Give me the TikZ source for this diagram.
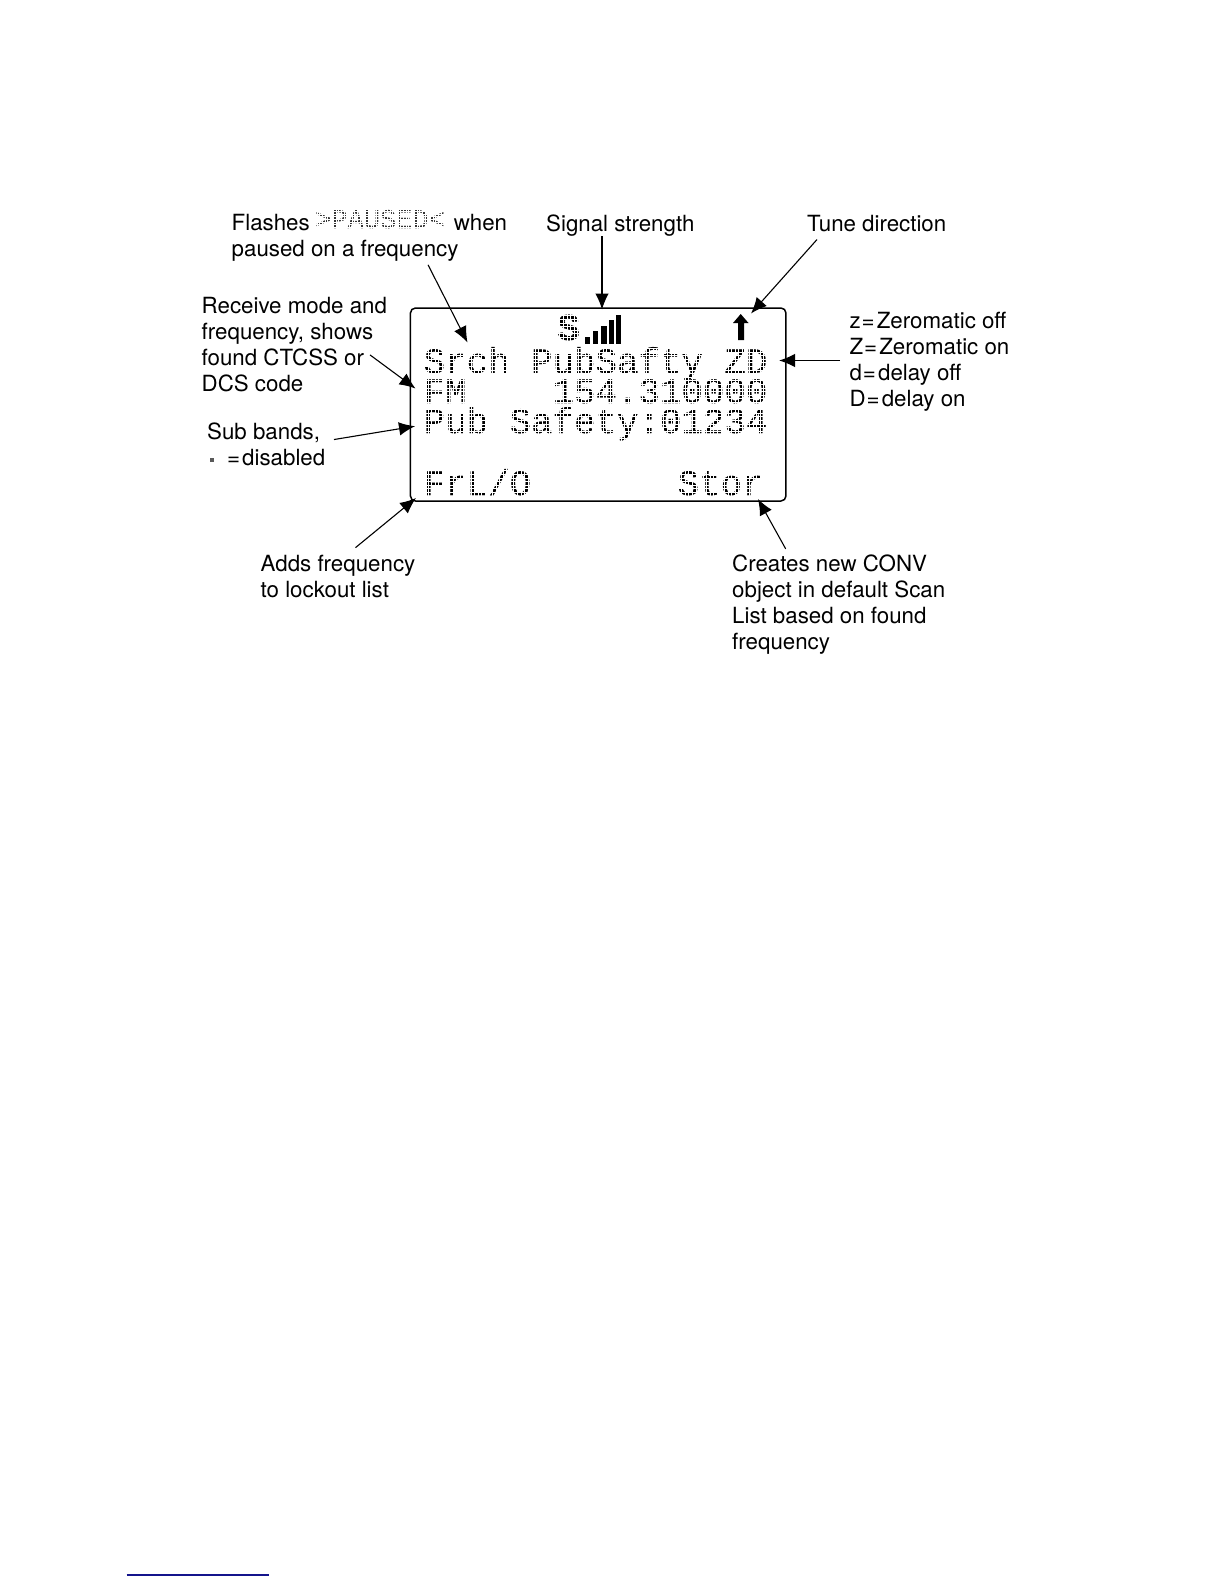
\documentclass[tikz,border=0pt]{standalone}
\usepackage{fontspec}
\setmainfont{TeX Gyre Heros}
\newfontfamily\lcdfont[FakeBold=0.5]{Liberation Mono}
\newcommand{\eqs}{\kern0.8pt=\kern2.2pt}
\usetikzlibrary{arrows.meta}
\tikzset{
    label/.style={inner sep=0pt, align=left, anchor=base west, font=\fontsize{22.3}{25.85}\selectfont},
    lcdtext/.style={inner sep=0pt, anchor=base west, font=\fontsize{35.8}{36}\lcdfont},
    callout/.style={-{Latex[length=16pt,width=13.5pt]}, line width=1.1pt},
    dotgrid/.style={white, line width=0.8pt}
}
\begin{document}
\begin{tikzpicture}[x=1pt, y=-1pt]
    \useasboundingbox (0,0) rectangle (1224,1584);

    % Display outline
    \node[draw, line width=1.5pt, rounded corners=5pt, minimum width=375.5pt, minimum height=193pt, inner sep=0pt] (display) at (598.2,404.5) {};

    % Display text
    \node[lcdtext] (line1) at (423.5,373) {Srch PubSafty ZD};
    \node[lcdtext] (line2) at (423.5,403) {FM~~~~154.310000};
    \node[lcdtext] (line3) at (423.5,433) {Pub Safety:01234};
    \node[lcdtext] (softl) at (423.5,495) {FrL/O};
    \node[lcdtext] (softr) at (677.5,495) {Stor};
    % white grid cuts the strokes into dots
    \draw[dotgrid, shift={(424.6pt,-348.4pt)}, xstep=3.57pt, ystep=3.6pt] (0,0) grid (349,150);

    % Status icons
    \node[inner sep=0pt, anchor=base west, font=\fontsize{38}{38}\lcdfont\bfseries] (sicon) at (557,340) {S};
    \draw[dotgrid, line width=0.4pt, shift={(556pt,-312pt)}, xstep=3.6pt, ystep=3.6pt] (0,0) grid (24,30);
    \fill (585,337) rectangle (590,343.5);
    \fill (593,331) rectangle (598,343.5);
    \fill (601,326) rectangle (606.5,343.5);
    \fill (609,320) rectangle (613.5,343.5);
    \fill (616,315) rectangle (621,343.5);
    \fill (740.7,314) -- (748.5,323) -- (744,323) -- (744,340) -- (738,340) -- (738,323) -- (733,323) -- cycle;

    % Top labels
    \node[label] (flash) at (231.5,256.7) {Flashes\hspace{144pt}when\\paused on a frequency};
    \node[inner sep=0pt, anchor=base west, text=black!80, font=\fontsize{27}{27}\lcdfont] (paused) at (315,228) {>PAUSED<};
    \draw[dotgrid, shift={(314.3pt,-208.6pt)}, xstep=2.7pt, ystep=2.7pt] (0,0) grid (130,22);
    \node[label] (signal) at (546,231) {Signal strength};
    \node[label] (tune) at (807,231) {Tune direction};

    % Left labels
    \node[label] (recv) at (201.5,391) {Receive mode and\\frequency, shows\\found CTCSS or\\DCS code};
    \node[label] (sub) at (207,465) {Sub bands,\\\hspace{19pt}\eqs disabled};
    \node[fill=black!65, minimum size=4pt, inner sep=0pt] (subdot) at (212,460) {};
    \node[label] (adds) at (260.5,597.6) {Adds frequency\\to lockout list};

    % Right labels
    \node[label] (zero) at (849.5,406) {z\eqs Zeromatic off\\Z\eqs Zeromatic on\\d\eqs delay off\\D\eqs delay on};
    \node[label] (creates) at (732,649) {Creates new CONV\\object in default Scan\\List based on found\\frequency};

    % Arrow tips
    \coordinate (tippaused) at (467.5,342.5);
    \coordinate (tipsignal) at (602,309.5);
    \coordinate (tiptune) at (751,313.5);
    \coordinate (tipzero) at (779,360.5);
    \coordinate (tiprecv) at (415.5,388.5);
    \coordinate (tipsub) at (415,426.2);
    \coordinate (tipadds) at (416,498);
    \coordinate (tipcreates) at (758,499);

    \draw[callout] (flash.south west) ++(196.5,3) -- (tippaused);
    \draw[callout] (signal.south west) ++(56,0) -- (tipsignal);
    \draw[callout] (tune.south west) ++(10,8) -- (tiptune);
    \draw[callout] ([xshift=-9.5pt]tipzero -| zero.west) -- (tipzero);
    \draw[callout] (recv.south west) ++(168.5,-36.7) -- (tiprecv);
    \draw[callout] (sub.south west) ++(127,-26) -- (tipsub);
    \draw[callout] (adds.north west) ++(95,-7.6) -- (tipadds);
    \draw[callout] (creates.north west) ++(53.7,-5.7) -- (tipcreates);

    % Footnote rule
    \coordinate (ruleleft) at (126.7,1575);
    \coordinate (ruleright) at (269,1575);
    \draw[line width=1.2pt, color={rgb,255:red,20;green,20;blue,140}] (ruleleft) -- (ruleright);
\end{tikzpicture}
\end{document}
